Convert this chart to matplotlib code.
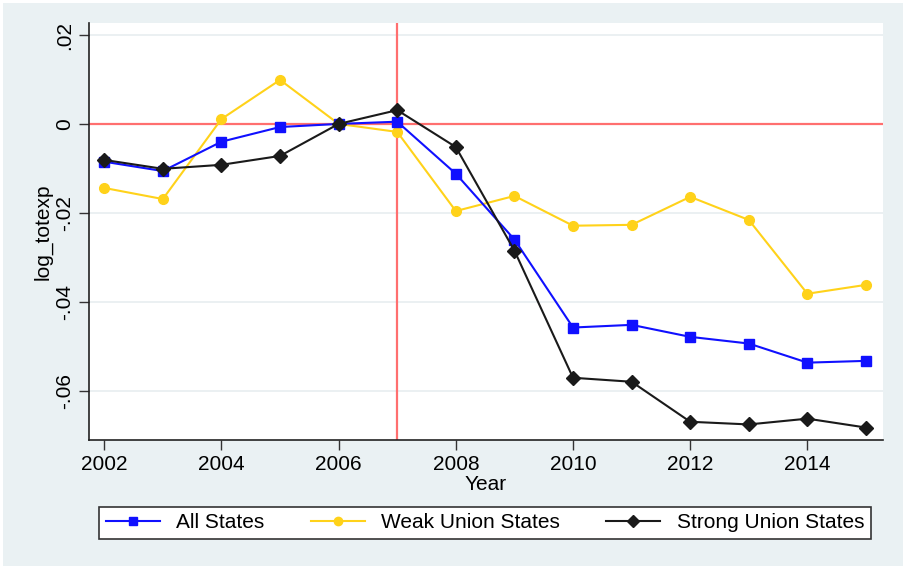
"""Event-study style plot of log total expenditure by union strength."""

from matplotlib import pyplot as plt
from matplotlib.patches import Rectangle
import numpy as np

years = np.arange(2002, 2016)
all_states = [-0.0085, -0.0106, -0.0040, -0.0007, 0.0, 0.0005, -0.0112,
              -0.0260, -0.0458, -0.0452, -0.0479, -0.0494, -0.0537, -0.0533]
weak_union = [-0.0144, -0.0169, 0.0011, 0.0099, 0.0, -0.0018, -0.0196,
              -0.0162, -0.0229, -0.0227, -0.0164, -0.0216, -0.0382, -0.0362]
strong_union = [-0.0081, -0.0101, -0.0092, -0.0072, 0.0, 0.0031, -0.0052,
                -0.0285, -0.0571, -0.0580, -0.0670, -0.0676, -0.0663, -0.0683]

y_ticks = [0.02, 0.0, -0.02, -0.04, -0.06]
y_tick_labels = [".02", "0", "-.02", "-.04", "-.06"]
x_ticks = [2002, 2004, 2006, 2008, 2010, 2012, 2014]

plt.rcParams['font.family'] = ['Liberation Sans', 'DejaVu Sans']

fig = plt.figure(figsize=(9.04, 5.68), dpi=100)
fig.patch.set_facecolor('white')
# light Stata-like background panel
fig.patches.append(Rectangle((3 / 904, 2 / 568), 901 / 904, 563 / 568,
                             transform=fig.transFigure, facecolor='#eaf1f3',
                             edgecolor='none', zorder=-1))

ax = fig.add_axes([89 / 904, 1 - 440 / 568, 794 / 904, 417 / 568])
ax.set_zorder(1)
ax.set_facecolor('white')

ax.axhline(0, color='#ff6f6f', lw=1.6, zorder=1)
ax.axvline(2007, color='#ff6f6f', lw=1.6, zorder=1)

ax.plot(years, all_states, color='#1010ff', lw=1.5, marker='s', ms=7,
        label='All States', zorder=3)
ax.plot(years, weak_union, color='#ffd21a', lw=1.5, marker='o', ms=7,
        label='Weak Union States', zorder=2)
ax.plot(years, strong_union, color='#1a1a1a', lw=1.5, marker='D', ms=7,
        label='Strong Union States', zorder=4)

ax.set_xlim(2001.74, 2015.29)
ax.set_ylim(-0.0711, 0.0227)
ax.set_xticks(x_ticks)
ax.set_yticks(y_ticks)
ax.set_yticklabels(y_tick_labels, rotation=90, va='center')
ax.tick_params(labelsize=15, length=7, width=1, color='#333333')
ax.grid(axis='y', color='#e8eef0', lw=1.2, zorder=0)
ax.set_axisbelow(True)

for side in ['top', 'right']:
    ax.spines[side].set_visible(False)
for side in ['left', 'bottom']:
    ax.spines[side].set_color('#222222')
    ax.spines[side].set_linewidth(1.2)

ax.set_xlabel('Year', fontsize=15, labelpad=1)
ax.set_ylabel('log_totexp', fontsize=15, labelpad=2)

leg = fig.legend(loc='center', bbox_to_anchor=(485 / 904, 1 - 523 / 568),
                 ncol=3, fontsize=15, frameon=True, fancybox=False,
                 edgecolor='#333333', framealpha=1, handlelength=2.6,
                 columnspacing=2.2, borderpad=0.3, handletextpad=0.8)
leg.get_frame().set_linewidth(1.2)
leg.set_zorder(2)
for h in leg.legend_handles:
    h.set_markersize(6)

fig.savefig('out.png', dpi=100)
